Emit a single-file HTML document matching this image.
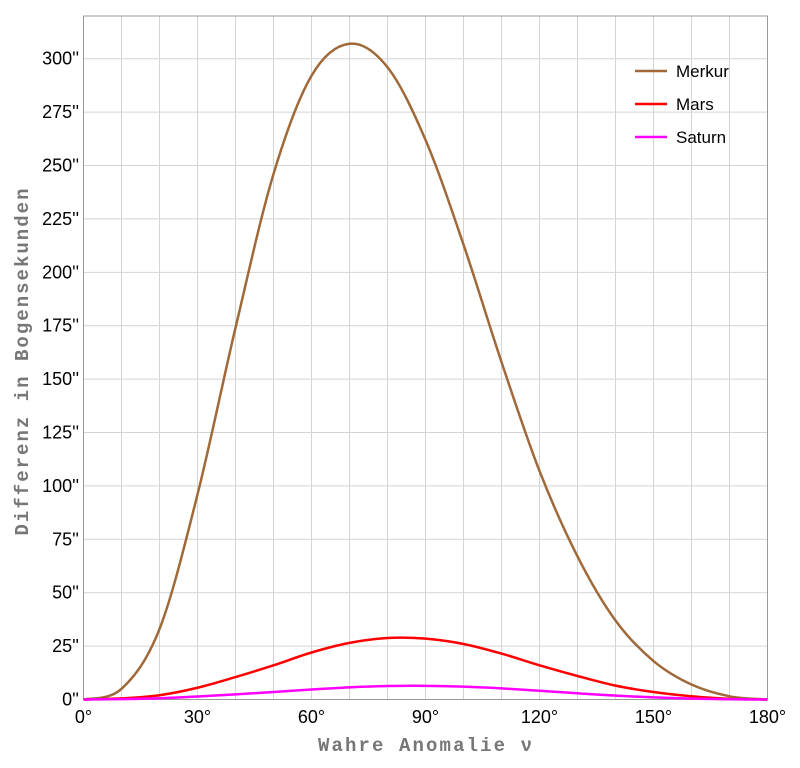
<!DOCTYPE html>
<html><head><meta charset="utf-8"><style>
body{margin:0;background:#fff}
svg{display:block;font-family:"Liberation Sans",sans-serif}
</style></head><body>
<svg width="800" height="768">
<g id="grid"></g>
<g id="axes"></g>
<g id="series"></g>
<text x="425" y="751" text-anchor="middle" font-family="Liberation Mono,monospace" font-size="19" font-weight="bold" fill="#777" textLength="214" lengthAdjust="spacing">Wahre Anomalie ν</text>
<text transform="translate(28,362) rotate(-90)" text-anchor="middle" font-family="Liberation Mono,monospace" font-size="19" font-weight="bold" fill="#777" textLength="347" lengthAdjust="spacing">Differenz in Bogensekunden</text>
<g>
<g><line x1="635" y1="71" x2="667" y2="71" stroke="#a0693a" stroke-width="2.5"/><text x="676" y="77" font-size="17">Merkur</text></g>
<g><line x1="635" y1="104" x2="667" y2="104" stroke="#ff0000" stroke-width="2.5"/><text x="676" y="110" font-size="17">Mars</text></g>
<g><line x1="635" y1="137" x2="667" y2="137" stroke="#ff00ff" stroke-width="2.5"/><text x="676" y="143" font-size="17">Saturn</text></g>
</g>
</svg>
<script>
const anomaly=[0,10,20,30,40,50,60,70,80,90,100,110,120,130,140,150,160,170,180];
const merkur=[0,5,33,96,174,246,292,307,296,262,213,158,107,67,37,18,7,1.5,0];
const mars=[0,0.5,2,5.5,10.5,16,22,26.5,28.8,28.5,26,21.5,16,11,6.5,3.5,1.5,0.3,0];
const saturn=[0,0.2,0.6,1.4,2.4,3.5,4.7,5.7,6.3,6.4,6,5.2,4.1,2.9,1.8,1,0.4,0.1,0];
const xTicks=[0,30,60,90,120,150,180];
const yTicks=[0,25,50,75,100,125,150,175,200,225,250,275,300];
const X0=83.5,X1=767.5,Y0=699.5,Y1=16;
const xs=v=>X0+(v/180)*(X1-X0);
const ys=v=>Y0-(v/320)*(Y0-Y1);
const NS="http://www.w3.org/2000/svg";
function mk(t,a,p){const e=document.createElementNS(NS,t);for(const k in a)e.setAttribute(k,a[k]);p.appendChild(e);return e;}
const grid=document.getElementById('grid'),axes=document.getElementById('axes'),ser=document.getElementById('series');
for(let d=10;d<180;d+=10){const l=mk('line',{x1:xs(d),x2:xs(d),y1:Y1,y2:Y0,stroke:'#d4d4d4','stroke-width':1},grid);

}
for(let v=25;v<320;v+=25){const l=mk('line',{x1:X0,x2:X1,y1:ys(v),y2:ys(v),stroke:'#d4d4d4','stroke-width':1},grid);

}
const fr=mk('rect',{x:X0,y:Y1,width:X1-X0,height:Y0-Y1,fill:'none',stroke:'#999','stroke-width':1},axes);


xTicks.forEach(d=>{const t=mk('text',{x:xs(d),y:723,'text-anchor':'middle','font-size':18},axes);t.textContent=d+'°';

});
yTicks.forEach(v=>{const t=mk('text',{x:79,y:ys(v)+6,'text-anchor':'end','font-size':18},axes);t.textContent=v+"''";

});
function path(vals){const p=anomaly.map((a,i)=>[xs(a),ys(vals[i])]);let d='M'+p[0][0]+','+p[0][1];
for(let i=0;i<p.length-1;i++){const a=p[Math.max(i-1,0)],b=p[i],c=p[i+1],e=p[Math.min(i+2,p.length-1)];
d+=' C'+(b[0]+(c[0]-a[0])/6)+','+(b[1]+(c[1]-a[1])/6)+' '+(c[0]-(e[0]-b[0])/6)+','+(c[1]-(e[1]-b[1])/6)+' '+c[0]+','+c[1];}return d;}
[[merkur,'#a0693a','line-merkur'],[mars,'#ff0000','line-mars'],[saturn,'#ff00ff','line-saturn']].forEach(s=>{
const p=mk('path',{d:path(s[0]),fill:'none',stroke:s[1],'stroke-width':2.5},ser);

});
</script>
</body></html>
